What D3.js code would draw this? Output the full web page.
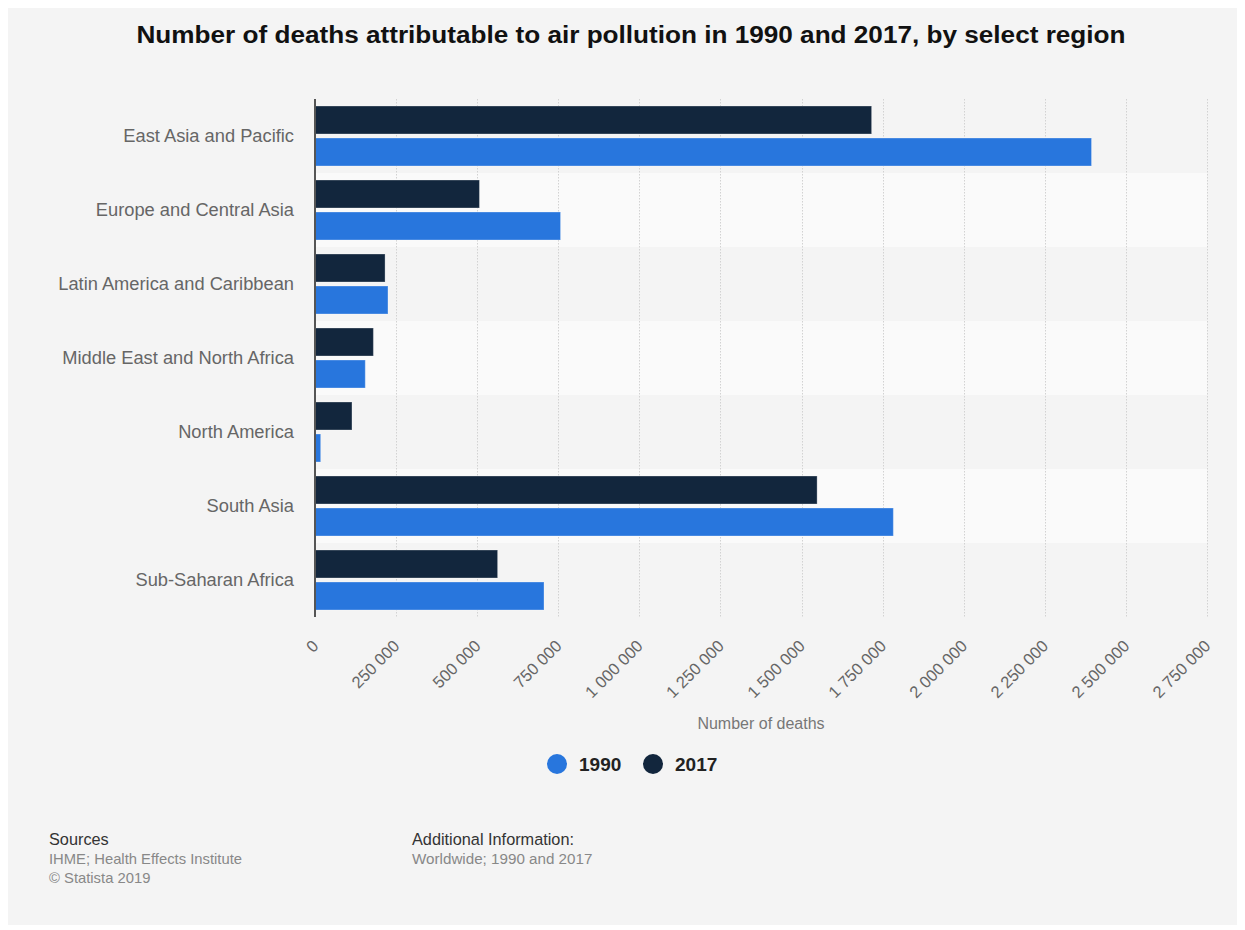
<!DOCTYPE html>
<html>
<head>
<meta charset="utf-8">
<script src="https://cdn.jsdelivr.net/npm/d3@7"></script>
<style>
  html, body { margin: 0; padding: 0; background: #ffffff; }
  svg { display: block; font-family: "Liberation Sans", Arial, Helvetica, sans-serif; }
</style>
</head>
<body>
<svg id="chart" width="1245" height="930"></svg>
<script>
// Regions, top to bottom
const categories = [
  "East Asia and Pacific",
  "Europe and Central Asia",
  "Latin America and Caribbean",
  "Middle East and North Africa",
  "North America",
  "South Asia",
  "Sub-Saharan Africa"
];

// Number of deaths per region
const values1990 = [2394000, 757000, 225000, 155000, 17500, 1783000, 706000];
const values2017 = [1716000, 507000, 216000, 180000, 114000, 1548000, 563000];

const seriesNames = ["1990", "2017"];
const seriesColors = ["#2876dd", "#12263d"];

const xTicks = [0, 250000, 500000, 750000, 1000000, 1250000, 1500000,
                1750000, 2000000, 2250000, 2500000, 2750000];

const titleText = "Number of deaths attributable to air pollution in 1990 and 2017, by select region";
const axisTitle = "Number of deaths";

const svg = d3.select("#chart");

// Grey card behind everything
svg.append("rect")
  .attr("x", 8).attr("y", 8)
  .attr("width", 1229).attr("height", 917)
  .attr("fill", "#f4f4f4");

const plot = { left: 315, right: 1207, top: 99, bottom: 617 };

const x = d3.scaleLinear()
  .domain([0, 2750000])
  .range([plot.left, plot.right]);

const y = d3.scaleBand()
  .domain(categories)
  .range([plot.top, plot.bottom]);

// 2017 bar sits above the 1990 bar inside each band
const yInner = d3.scaleBand()
  .domain(["2017", "1990"])
  .range([0, y.bandwidth()])
  .paddingInner(0.125)
  .paddingOuter(0.21875);

// Alternating row stripes
svg.append("g")
  .selectAll("rect")
  .data(categories.filter((d, i) => i % 2 === 1))
  .join("rect")
  .attr("x", plot.left)
  .attr("y", d => y(d))
  .attr("width", plot.right - plot.left)
  .attr("height", y.bandwidth())
  .attr("fill", "#fafafa");

// Vertical dotted gridlines
svg.append("g")
  .selectAll("line")
  .data(xTicks.slice(1))
  .join("line")
  .attr("x1", d => Math.round(x(d)) + 0.5)
  .attr("x2", d => Math.round(x(d)) + 0.5)
  .attr("y1", plot.top)
  .attr("y2", plot.bottom)
  .attr("stroke", "#d2d2d2")
  .attr("stroke-width", 1)
  .attr("stroke-dasharray", "1.5,1.5");

// Bars
const rows = categories.map((c, i) => ({
  category: c,
  bars: [
    { series: "2017", value: values2017[i], color: seriesColors[1] },
    { series: "1990", value: values1990[i], color: seriesColors[0] }
  ]
}));

const groups = svg.append("g")
  .selectAll("g")
  .data(rows)
  .join("g")
  .attr("transform", d => `translate(0,${y(d.category)})`);

groups.selectAll("rect")
  .data(d => d.bars)
  .join("rect")
  .attr("x", x(0))
  .attr("y", d => yInner(d.series))
  .attr("width", d => x(d.value) - x(0))
  .attr("height", yInner.bandwidth())
  .attr("fill", d => d.color)
  .attr("stroke", "rgba(255,255,255,0.3)")
  .attr("stroke-width", 1);

// Left axis line
svg.append("line")
  .attr("x1", plot.left).attr("x2", plot.left)
  .attr("y1", plot.top).attr("y2", plot.bottom)
  .attr("stroke", "#555555")
  .attr("stroke-width", 2);

// Category labels
const yAxis = d3.axisLeft(y).tickSize(0).tickPadding(21);
const yG = svg.append("g")
  .attr("transform", `translate(${plot.left},0)`)
  .call(yAxis);
yG.select(".domain").remove();
yG.selectAll("text")
  .attr("fill", "#666666")
  .attr("font-size", 18.3)
  .attr("font-family", "Liberation Sans, Arial, sans-serif");

// Value axis tick labels, rotated
const fmtLocale = d3.formatLocale({ decimal: ".", thousands: " ", grouping: [3], currency: ["", ""] });
const fmt = fmtLocale.format(",");
const xAxis = d3.axisBottom(x).tickValues(xTicks).tickFormat(fmt).tickSize(0);
const xG = svg.append("g")
  .attr("transform", `translate(0,${plot.bottom})`)
  .call(xAxis);
xG.select(".domain").remove();
xG.selectAll(".tick text")
  .attr("fill", "#666666")
  .attr("font-size", 16.5)
  .attr("font-family", "Liberation Sans, Arial, sans-serif")
  .attr("text-anchor", "end")
  .attr("dy", null)
  .attr("y", 0)
  .attr("transform", "translate(4,30) rotate(-45)");

// Axis title
svg.append("text")
  .attr("x", (plot.left + plot.right) / 2)
  .attr("y", 729)
  .attr("text-anchor", "middle")
  .attr("fill", "#777777")
  .attr("font-size", 16)
  .text(axisTitle);

// Title
svg.append("text")
  .attr("x", 631)
  .attr("y", 43)
  .attr("text-anchor", "middle")
  .attr("fill", "#111111")
  .attr("font-weight", "bold")
  .attr("font-size", 23)
  .attr("textLength", 989)
  .attr("lengthAdjust", "spacingAndGlyphs")
  .text(titleText);

// Legend
const legendItems = [
  { name: seriesNames[0], color: seriesColors[0], cx: 557 },
  { name: seriesNames[1], color: seriesColors[1], cx: 653 }
];
const lg = svg.append("g");
lg.selectAll("circle")
  .data(legendItems)
  .join("circle")
  .attr("cx", d => d.cx)
  .attr("cy", 764)
  .attr("r", 10)
  .attr("fill", d => d.color);
lg.selectAll("text")
  .data(legendItems)
  .join("text")
  .attr("x", d => d.cx + 22)
  .attr("y", 771)
  .attr("fill", "#222222")
  .attr("font-weight", "bold")
  .attr("font-size", 19)
  .text(d => d.name);

// Footer notes
const footer = svg.append("g").attr("font-family", "Liberation Sans, Arial, sans-serif");
footer.append("text").attr("x", 49).attr("y", 845)
  .attr("fill", "#333333").attr("font-size", 16.3).text("Sources");
footer.append("text").attr("x", 49).attr("y", 864)
  .attr("fill", "#888888").attr("font-size", 14.8).text("IHME; Health Effects Institute");
footer.append("text").attr("x", 49).attr("y", 883)
  .attr("fill", "#888888").attr("font-size", 14.8).text("\u00A9 Statista 2019");
footer.append("text").attr("x", 412).attr("y", 845)
  .attr("fill", "#333333").attr("font-size", 16.3).text("Additional Information:");
footer.append("text").attr("x", 412).attr("y", 864)
  .attr("fill", "#888888").attr("font-size", 15.2).text("Worldwide; 1990 and 2017");
</script>
</body>
</html>
